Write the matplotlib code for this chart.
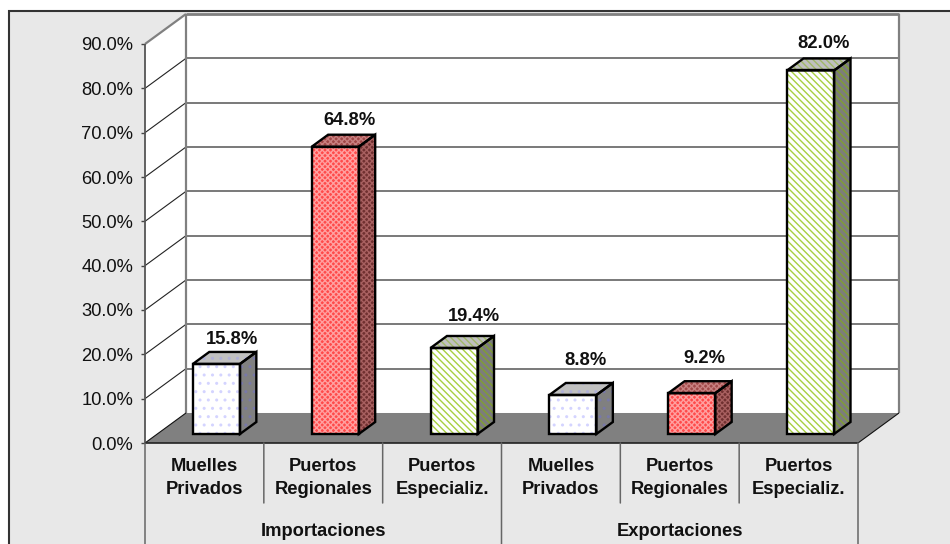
# ====================================================
# 3D style bars: import / export share by port type
# ====================================================
import matplotlib
matplotlib.use("Agg")
from matplotlib import pyplot as plt
from matplotlib.patches import Polygon, Rectangle

plt.rcParams["font.family"] = ["Liberation Sans", "DejaVu Sans"]
plt.rcParams["hatch.linewidth"] = 1.0

# ====================================================
# Data
# ====================================================
categories = ["Muelles\nPrivados", "Puertos\nRegionales", "Puertos\nEspecializ.",
              "Muelles\nPrivados", "Puertos\nRegionales", "Puertos\nEspecializ."]
groups = ["Importaciones", "Exportaciones"]
values = [15.8, 64.8, 19.4, 8.8, 9.2, 82.0]
y_ticks = [0, 10, 20, 30, 40, 50, 60, 70, 80, 90]

# ----------------------------------------------------
# Style: (face, hatch colour) for front, side, top, then the hatch
# ----------------------------------------------------
dots = (("white", "#d4d4ff"), ("#808080", "#7878a8"), ("#c0c0c0", "#b0b0d8"), "..")
red = (("#ff4a4a", "#ffa0a0"), ("#703030", "#a86060"), ("#a04848", "#c88080"), "xxxxxx")
green = (("white", "#a8d040"), ("#7c7c7c", "#80a030"), ("#c0c0c0", "#a0b868"), "\\\\\\\\\\")
styles = [dots, red, green, dots, red, green]

# label offsets from the bar's back top corner, in pixels
label_offsets = [(16, 12), (14, 14), (20, 19), (13, 22), (13, 23), (13, 15)]

# depth of the floor in data units
DX = 0.345
DY = 6.77
BAR_W = 0.396
BAR_SHIFT = 0.101
BAR_D0 = 0.3
BAR_D1 = 0.7

fig = plt.figure(figsize=(9.5, 5.44), dpi=100, facecolor="white")
W, H = 950.0, 544.0

# chart area, runs off the right and bottom edges
fig.add_artist(Rectangle((9 / W, -0.1), 1, 1.1 - 11 / H, transform=fig.transFigure,
                         facecolor="#e8e8e8", edgecolor="#333333", linewidth=1.5, zorder=-1))

ax = fig.add_axes([145 / W, 1 - 443 / H, 713 / W, 399 / H])
ax.set_xlim(0, 6)
ax.set_ylim(0, 90)
ax.patch.set_visible(False)
for s in ax.spines.values():
    s.set_visible(False)
ax.set_xticks([])
ax.set_yticks(y_ticks)
ax.set_yticklabels([f"{v:.1f}%" for v in y_ticks], fontsize=13.2, color="#111111")
ax.tick_params(axis="y", length=3, width=1, color="#444444", pad=5.6)


def poly(points, **kw):
    p = Polygon(points, closed=True, clip_on=False, **kw)
    ax.add_patch(p)
    return p


def glue_line(xs, ys, color, lw, z=2):
    ax.plot(xs, ys, color=color, linewidth=lw, clip_on=False, zorder=z,
            solid_capstyle="butt")


# ----------------------------------------------------
# Walls and floor
# ----------------------------------------------------
poly([(0, 0), (DX, DY), (DX, 90 + DY), (0, 90)], facecolor="white", edgecolor="none", zorder=1)
poly([(DX, DY), (6 + DX, DY), (6 + DX, 90 + DY), (DX, 90 + DY)],
     facecolor="white", edgecolor="none", zorder=1)
poly([(0, 0), (6, 0), (6 + DX, DY), (DX, DY)], facecolor="#808080", edgecolor="none", zorder=2)

for v in y_ticks[1:-1]:
    glue_line([DX, 6 + DX], [v + DY, v + DY], "#6e6e6e", 1.3)
    glue_line([0, DX], [v, v + DY], "#222222", 0.8)
glue_line([DX, 6 + DX], [90 + DY, 90 + DY], "#808080", 2.0)
glue_line([0, DX], [90, 90 + DY], "#808080", 1.6)
glue_line([0, DX], [0, DY], "#111111", 0.8, z=3)
glue_line([6, 6 + DX], [0, DY], "#111111", 0.8, z=3)
glue_line([DX, DX], [DY, 90 + DY], "#808080", 1.6)
glue_line([6 + DX, 6 + DX], [DY, 90 + DY], "#808080", 1.6)
glue_line([0, 0], [0, 90], "#555555", 1.3, z=3)

# ----------------------------------------------------
# Bars
# ----------------------------------------------------
for i, (val, st, off) in enumerate(zip(values, styles, label_offsets)):
    front, side, top, hatch = st
    x0 = i + 0.5 + BAR_SHIFT - BAR_W / 2
    x1 = x0 + BAR_W
    ex, ey = (BAR_D1 - BAR_D0) * DX, (BAR_D1 - BAR_D0) * DY
    y0 = BAR_D0 * DY
    y1 = val + BAR_D0 * DY

    faces = [
        ([(x1, y0), (x1 + ex, y0 + ey), (x1 + ex, y1 + ey), (x1, y1)], side),
        ([(x0, y1), (x1, y1), (x1 + ex, y1 + ey), (x0 + ex, y1 + ey)], top),
        ([(x0, y0), (x1, y0), (x1, y1), (x0, y1)], front),
    ]
    for pts, (col, hatch_col) in faces:
        poly(pts, facecolor=col, edgecolor=hatch_col, hatch=hatch, linewidth=0, zorder=4)
        poly(pts, facecolor="none", edgecolor="black", linewidth=1.7, zorder=5, joinstyle="miter")

    ax.annotate(f"{val:.1f}%", xy=(i + 0.5 + BAR_SHIFT, y1 + ey), xytext=off,
                textcoords="offset pixels", ha="center", va="center",
                fontsize=13.2, fontweight="bold", color="#111111", zorder=6,
                annotation_clip=False)

# ----------------------------------------------------
# Two level category axis
# ----------------------------------------------------
glue_line([0, 6], [0, 0], "#222222", 1.2, z=3)
for i, lab in enumerate(categories):
    ax.annotate(lab, xy=(i + 0.5, 0), xytext=(0, -35), textcoords="offset pixels",
                ha="center", va="center", fontsize=13.2, fontweight="bold",
                color="#111111", linespacing=1.45, annotation_clip=False)
for i in [1, 2, 4, 5]:
    ax.annotate("", xy=(i, 0), xytext=(i, -60), xycoords="data",
                textcoords=("data", "offset pixels"), annotation_clip=False,
                arrowprops=dict(arrowstyle="-", color="#666666", lw=1.1,
                                shrinkA=0, shrinkB=0))
for i in [0, 3, 6]:
    ax.annotate("", xy=(i, 0), xytext=(i, -101), xycoords="data",
                textcoords=("data", "offset pixels"), annotation_clip=False,
                arrowprops=dict(arrowstyle="-", color="#666666", lw=1.1,
                                shrinkA=0, shrinkB=0))
for k, lab in enumerate(groups):
    ax.annotate(lab, xy=(1.5 + 3 * k, 0), xytext=(0, -88), textcoords="offset pixels",
                ha="center", va="center", fontsize=13.2, fontweight="bold",
                color="#111111", annotation_clip=False)

fig.savefig("out.png", dpi=100)
